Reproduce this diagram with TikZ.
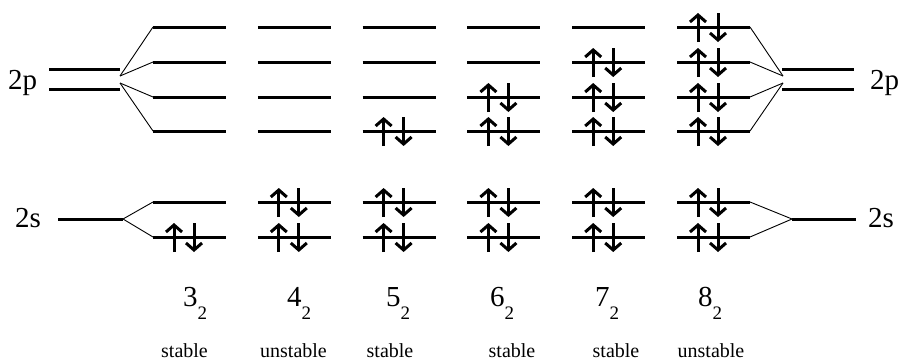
\documentclass[tikz,border=0pt]{standalone}
\usepackage{fontspec}
\setmainfont{Liberation Serif}
\usetikzlibrary{arrows.meta}
\tikzset{
  level/.style={line width=3pt},
  fan/.style={line width=0.9pt},
  spin/.style={line width=3pt,-{Straight Barb[length=7pt,width=16pt]}},
  orbtext/.style={inner sep=0pt,font=\fontsize{29}{31}\selectfont},
  stabtext/.style={inner sep=0pt,anchor=base,font=\fontsize{20}{22}\selectfont}
}
\newcommand{\subtwo}{\raisebox{-13pt}{\fontsize{19}{19}\selectfont 2}}

\begin{document}
\begin{tikzpicture}[x=1pt,y=-1pt]
  \useasboundingbox (0,0) rectangle (901,362);
  % molecular levels, one column per molecule
  \foreach \c in {0,...,5}{
    \pgfmathsetmacro\xl{153+104.8*\c}
    \foreach \k/\y in {1/27,2/62,3/97,4/131,5/202,6/237}
      \draw[level] (\xl,\y) coordinate (l\c-\k) -- ++(73,0) coordinate (r\c-\k);
  }
  % atomic levels
  \draw[level] (49,69) -- (120,69);
  \draw[level] (49,89) -- (120,89);
  \draw[level] (782,69) -- (854,69);
  \draw[level] (782,89) -- (854,89);
  \coordinate (pL1) at (120,76);
  \coordinate (pL2) at (120,83);
  \coordinate (pR1) at (783,76);
  \coordinate (pR2) at (783,83);
  \draw[level] (58,219) -- (123,219) coordinate (sL);
  \draw[level] (792,219) coordinate (sR) -- (856,219);
  \node[orbtext,anchor=base west] (pleft) at (8,89) {2p};
  \node[orbtext,anchor=base west] (sleft) at (15,227) {2s};
  \node[orbtext,anchor=base west] (pright) at (870,89) {2p};
  \node[orbtext,anchor=base west] (sright) at (868,227) {2s};
  % splitting
  \foreach \k in {1,2} \draw[fan] (pL1) -- (l0-\k);
  \foreach \k in {3,4} \draw[fan] (pL2) -- (l0-\k);
  \foreach \k in {5,6} \draw[fan] (sL) -- (l0-\k);
  \foreach \k in {1,2} \draw[fan] (r5-\k) -- (pR1);
  \foreach \k in {3,4} \draw[fan] (r5-\k) -- (pR2);
  \foreach \k in {5,6} \draw[fan] (r5-\k) -- (sR);
  % electron pairs
  \foreach \c/\k in {0/6, 1/5,1/6, 2/5,2/6,2/4, 3/5,3/6,3/4,3/3,
                     4/5,4/6,4/4,4/3,4/2, 5/5,5/6,5/4,5/3,5/2,5/1}{
    \draw[spin] ([xshift=21pt,yshift=-15pt]l\c-\k) -- ++(0,-29);
    \draw[spin] ([xshift=41pt,yshift=14pt]l\c-\k) -- ++(0,29);
  }
  % molecule names
  \foreach \x/\n in {183/3,287/4,386/5,490/6,595/7,698/8}
    \node[orbtext,anchor=base west] (name\n) at (\x,306) {\n\subtwo};
  \foreach \x/\t/\n in {184.5/stable/3,293.5/unstable/4,390/stable/5,
                        512/stable/6,616/stable/7,711/unstable/8}
    \node[stabtext] (stab\n) at (\x,357) {\t};
\end{tikzpicture}
\end{document}
